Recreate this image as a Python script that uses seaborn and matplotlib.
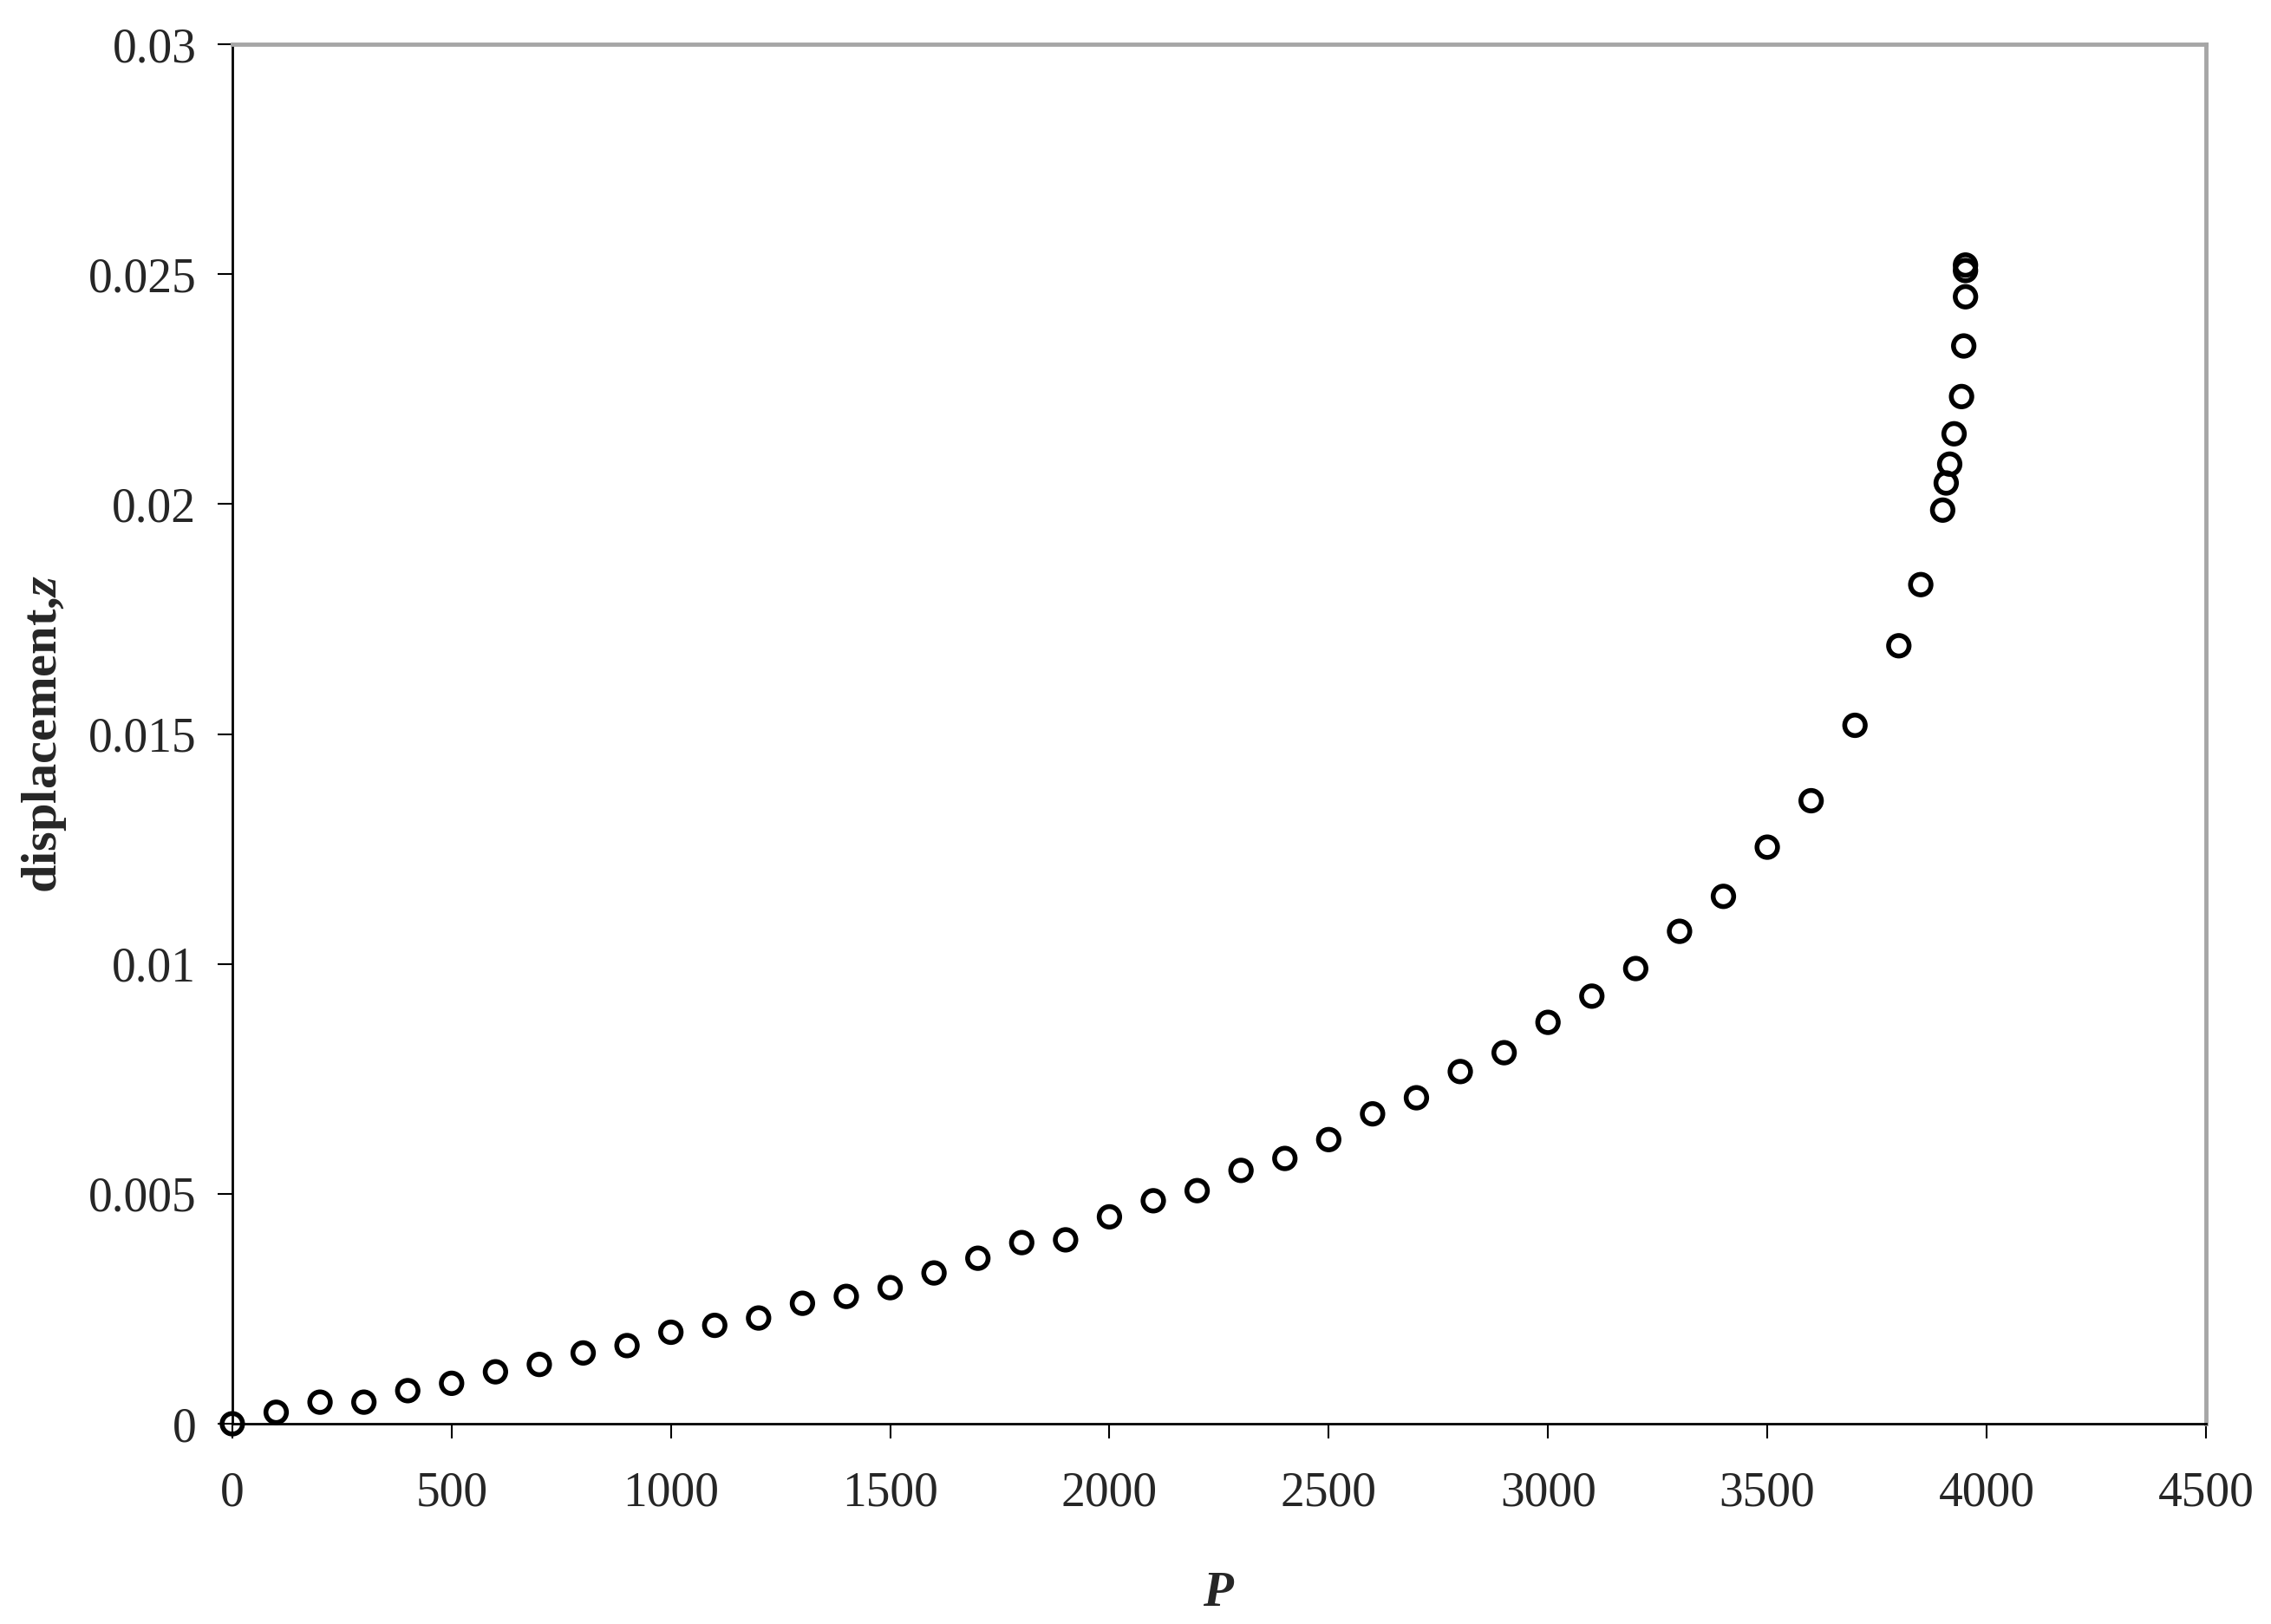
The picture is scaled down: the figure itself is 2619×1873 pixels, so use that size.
import numpy as np
import pandas as pd
import seaborn as sns
import matplotlib.pyplot as plt

# load P and displacement z
P = [0, 100, 200, 300, 400, 500, 600, 700, 800, 900,
     1000, 1100, 1200, 1300, 1400, 1500, 1600, 1700, 1800, 1900,
     2000, 2100, 2200, 2300, 2400, 2500, 2600, 2700, 2800, 2900,
     3000, 3100, 3200, 3300, 3400, 3500, 3600, 3700, 3800, 3850,
     3900, 3908, 3916, 3926, 3943, 3948, 3952, 3952, 3952]
z = [0.0, 0.00025, 0.00047, 0.00047, 0.00072, 0.00088, 0.00113, 0.00129, 0.00154, 0.0017,
     0.00199, 0.00214, 0.0023, 0.00262, 0.00277, 0.00296, 0.00328, 0.0036, 0.00394, 0.004,
     0.0045, 0.00485, 0.00507, 0.00551, 0.00577, 0.00618, 0.00674, 0.00709, 0.00766, 0.00807,
     0.00873, 0.0093, 0.0099, 0.01071, 0.01147, 0.01254, 0.01355, 0.01519, 0.01692, 0.01825,
     0.01987, 0.02046, 0.02087, 0.02153, 0.02234, 0.02344, 0.02451, 0.02508, 0.0252]

xticks = [0, 500, 1000, 1500, 2000, 2500, 3000, 3500, 4000, 4500]
yticks = [0, 0.005, 0.01, 0.015, 0.02, 0.025, 0.03]
ytick_labels = ['0', '0.005', '0.01', '0.015', '0.02', '0.025', '0.03']

df = pd.DataFrame({'P': P, 'z': z})

sns.set_style('white')
plt.rcParams['font.family'] = ['Liberation Serif', 'DejaVu Serif']
plt.rcParams['mathtext.fontset'] = 'custom'
plt.rcParams['mathtext.it'] = 'Liberation Serif:bold:italic'
plt.rcParams['mathtext.rm'] = 'Liberation Serif:bold'

fig = plt.figure(figsize=(26.19, 18.73), dpi=100)
ax = fig.add_axes([0.1023, 0.1233, 0.8690, 0.8494])

sns.scatterplot(data=df, x='P', y='z', ax=ax, marker='o', s=290,
                facecolor='none', edgecolor='black', linewidth=4.0, clip_on=False, zorder=3)

ax.set_xlim(0, 4500)
ax.set_ylim(0, 0.03)
ax.set_xticks(xticks)
ax.set_xticklabels([str(t) for t in xticks])
ax.set_yticks(yticks)
ax.set_yticklabels(ytick_labels)

ax.tick_params(axis='both', direction='out', length=12, width=1.5, color='black',
               labelsize=40, bottom=True, left=True)
ax.tick_params(axis='x', pad=27)
ax.tick_params(axis='y', pad=18)

for side in ['left', 'bottom']:
    ax.spines[side].set_color('black')
    ax.spines[side].set_linewidth(2)
for side in ['top', 'right']:
    ax.spines[side].set_color('#a6a6a6')
    ax.spines[side].set_linewidth(3.5)

ax.set_xlabel('$P$', fontsize=41)
ax.set_ylabel('displacement,$z$', fontsize=42, fontweight='bold')
ax.xaxis.set_label_coords(0.5, -0.107)
ax.yaxis.set_label_coords(-0.083, 0.5)

fig.savefig('out.png', dpi=100)
